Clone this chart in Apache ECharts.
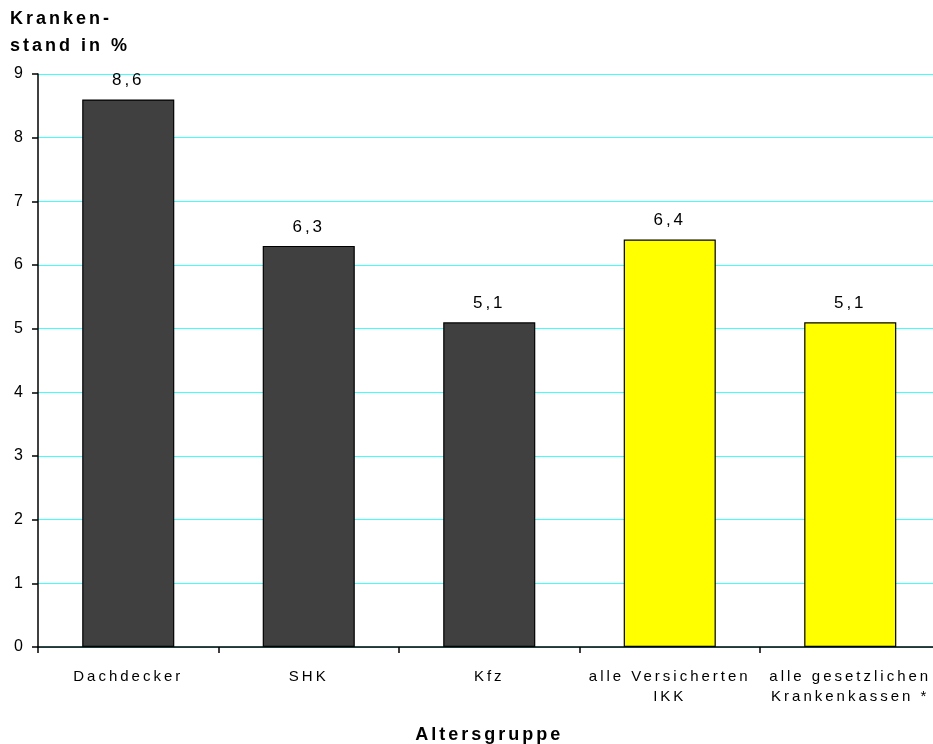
<!DOCTYPE html>
<html>
<head>
<meta charset="utf-8">
<script src="https://cdn.jsdelivr.net/npm/echarts@6/dist/echarts.min.js"></script>
<style>
  html, body { margin: 0; padding: 0; background: #fff; }
  #chart { width: 933px; height: 744px; }
</style>
</head>
<body>
<div id="chart"></div>
<script>
// Sick-leave rate by group
const categories = ['Dachdecker', 'SHK', 'Kfz', 'alle Versicherten\nIKK', 'alle gesetzlichen\nKrankenkassen *'];
const values = [8.6, 6.3, 5.1, 6.4, 5.1];
const barColors = ['#404040', '#404040', '#404040', '#ffff00', '#ffff00'];
const yTicks = [0, 1, 2, 3, 4, 5, 6, 7, 8, 9];

// Wide tracking for all chart text, applied to both drawing and measuring
const TRACKING = '3px';
(function () {
  const proto = CanvasRenderingContext2D.prototype;
  if (!('letterSpacing' in proto)) return;
  const fill = proto.fillText, measure = proto.measureText, stroke = proto.strokeText;
  proto.fillText = function () { this.letterSpacing = TRACKING; return fill.apply(this, arguments); };
  proto.strokeText = function () { this.letterSpacing = TRACKING; return stroke.apply(this, arguments); };
  proto.measureText = function () { this.letterSpacing = TRACKING; return measure.apply(this, arguments); };
})();

const FONT = 'Liberation Sans, Arial, sans-serif';
const chart = echarts.init(document.getElementById('chart'), null, { renderer: 'canvas' });

chart.setOption({
  animation: false,
  backgroundColor: '#ffffff',
  textStyle: { fontFamily: FONT },
  title: {
    text: 'Kranken-\nstand in %',
    left: 10,
    top: 6,
    padding: 0,
    textStyle: { fontFamily: FONT, fontSize: 18, fontWeight: 'bold', color: '#000', lineHeight: 27 }
  },
  grid: { left: 38, top: 74, bottom: 97, width: 902.5, containLabel: false, outerBoundsMode: 'none' },
  xAxis: {
    type: 'category',
    data: categories,
    name: 'Altersgruppe',
    nameLocation: 'middle',
    nameGap: 78,
    nameTextStyle: { fontFamily: FONT, fontSize: 18, fontWeight: 'bold', color: '#000' },
    axisLine: { lineStyle: { color: '#000', width: 1.5 } },
    axisTick: { show: true, inside: false, length: 6, alignWithLabel: false, lineStyle: { color: '#000', width: 1.5 } },
    axisLabel: { fontFamily: FONT, fontSize: 15, color: '#000', margin: 20, lineHeight: 20, interval: 0 },
    splitLine: { show: false }
  },
  yAxis: {
    type: 'value',
    min: yTicks[0],
    max: yTicks[yTicks.length - 1],
    interval: 1,
    axisLine: { show: true, lineStyle: { color: '#000', width: 1.5 } },
    axisTick: { show: true, length: 6, lineStyle: { color: '#000', width: 1.5 } },
    axisLabel: { fontFamily: FONT, fontSize: 16, color: '#000', margin: 12 },
    splitLine: { show: true, lineStyle: { color: '#40ffff', width: 1.2 } }
  },
  series: [{
    type: 'bar',
    barWidth: '51%',
    data: values.map((v, i) => ({
      value: v,
      itemStyle: { color: barColors[i], borderColor: '#000', borderWidth: 1.2 }
    })),
    label: {
      show: true,
      position: 'top',
      distance: 9,
      fontFamily: FONT,
      fontSize: 17,
      color: '#000',
      formatter: p => String(p.value).replace('.', ',')
    }
  }]
});
</script>
</body>
</html>
